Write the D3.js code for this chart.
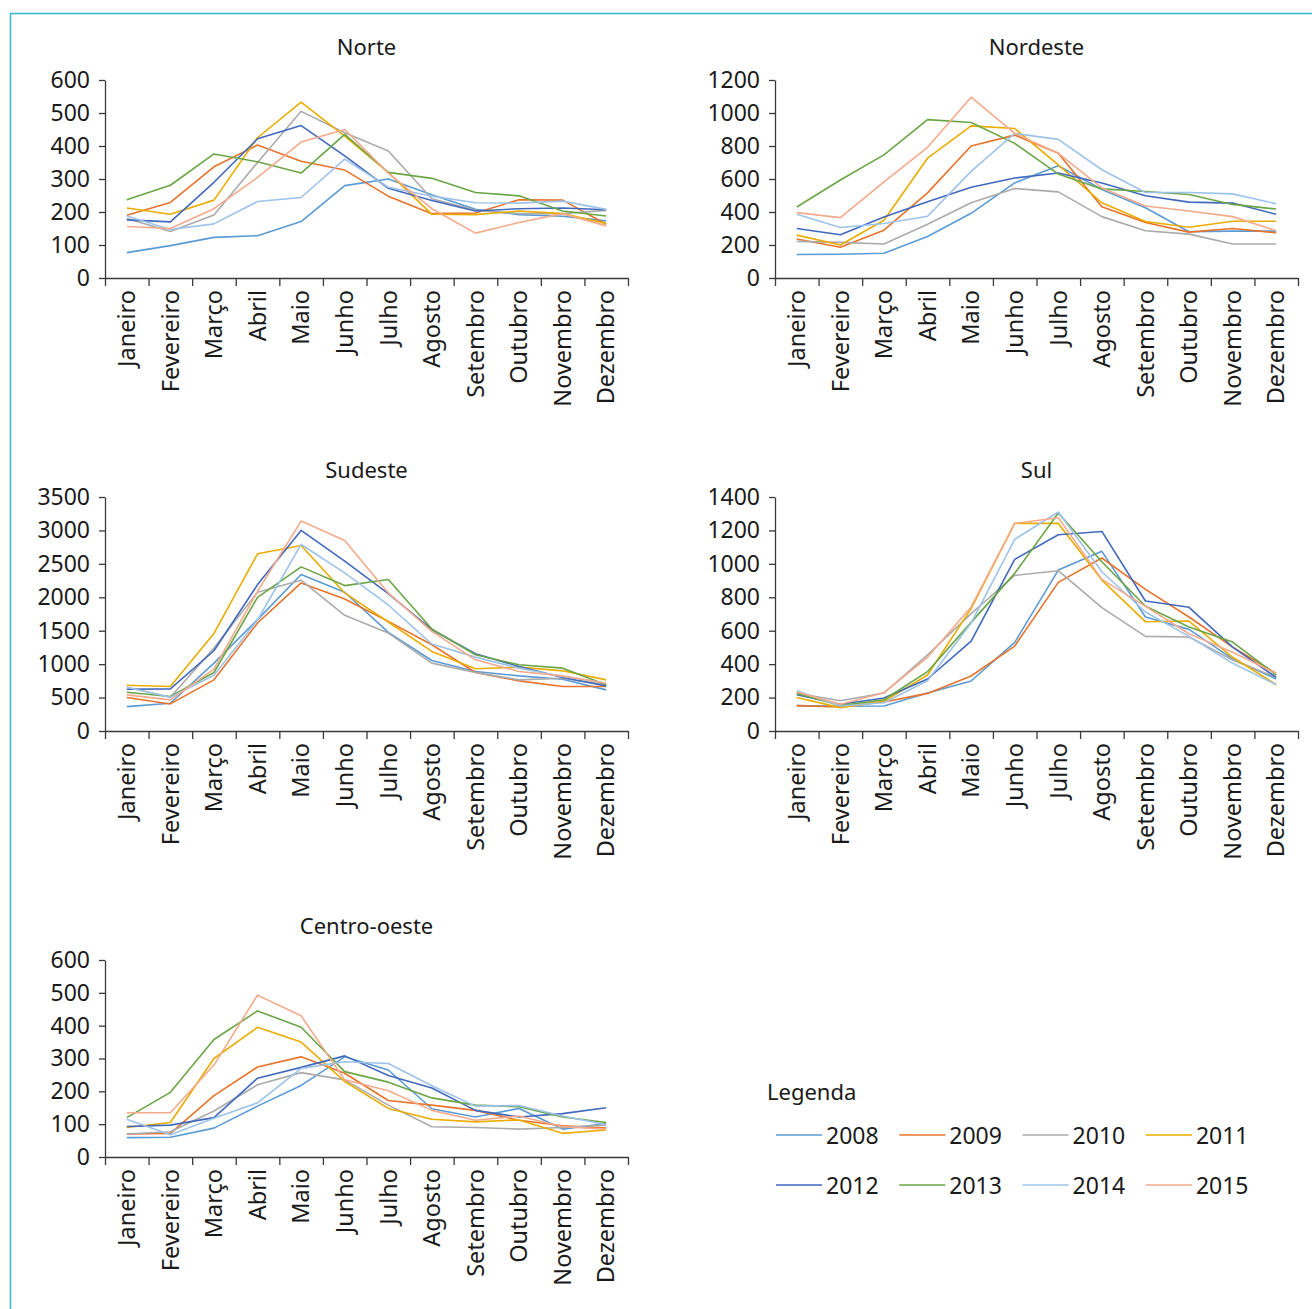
<!DOCTYPE html>
<html>
<head>
<meta charset="utf-8">
<script src="https://cdn.jsdelivr.net/npm/d3@7"></script>
<style>
  html, body { margin: 0; padding: 0; background: #fff; }
  svg { display: block; }
  text { font-family: "Noto Sans", "Open Sans", sans-serif; fill: #1a1a1a; }
</style>
</head>
<body>
<svg id="chart" width="1312" height="1309"></svg>
<script>
// ---------- DATA ----------
const months = ["Janeiro","Fevereiro","Março","Abril","Maio","Junho","Julho","Agosto","Setembro","Outubro","Novembro","Dezembro"];
const years = ["2008","2009","2010","2011","2012","2013","2014","2015"];
const yearColors = ["#5B9BD5","#E8732A","#ABABAB","#EBAC00","#4169BE","#6BA646","#9EC3EA","#F5AA8C"];

// series order follows `years`
const norte = [
  [77, 98, 123, 128, 171, 280, 300, 252, 208, 192, 187, 173],
  [190, 229, 337, 403, 354, 327, 248, 195, 197, 237, 236, 163],
  [180, 141, 191, 350, 505, 440, 385, 240, 205, 195, 195, 205],
  [212, 193, 236, 425, 533, 430, 320, 193, 192, 203, 195, 165],
  [176, 170, 290, 422, 462, 370, 272, 235, 203, 210, 212, 207],
  [237, 281, 376, 352, 318, 435, 320, 302, 259, 249, 203, 188],
  [188, 147, 164, 232, 244, 360, 275, 248, 228, 227, 233, 208],
  [156, 150, 210, 305, 412, 450, 318, 210, 136, 168, 195, 158]
];
const nordeste = [
  [142, 144, 150, 252, 392, 576, 680, 536, 426, 280, 284, 284],
  [236, 186, 290, 516, 800, 866, 756, 432, 336, 278, 300, 274],
  [222, 216, 206, 326, 456, 542, 522, 372, 286, 266, 206, 206],
  [260, 200, 350, 726, 922, 906, 686, 456, 342, 308, 344, 344],
  [300, 262, 370, 462, 550, 606, 636, 576, 498, 460, 454, 386],
  [430, 594, 746, 960, 942, 816, 630, 540, 524, 506, 446, 418],
  [386, 306, 330, 374, 646, 876, 840, 656, 518, 518, 510, 450],
  [396, 366, 582, 792, 1096, 876, 756, 546, 436, 406, 372, 286]
];
const sudeste = [
  [365, 415, 1015, 1665, 2340, 2075, 1475, 1055, 890, 825, 775, 615],
  [500, 405, 765, 1615, 2215, 1975, 1640, 1290, 875, 750, 665, 665],
  [655, 505, 1240, 2075, 2255, 1730, 1465, 1015, 875, 765, 790, 690],
  [685, 665, 1460, 2650, 2775, 2065, 1630, 1190, 930, 955, 900, 765],
  [625, 630, 1200, 2190, 3000, 2540, 2055, 1515, 1155, 965, 800, 675],
  [580, 515, 875, 2000, 2455, 2175, 2265, 1525, 1140, 990, 940, 690],
  [655, 505, 835, 1660, 2790, 2365, 1885, 1300, 1105, 940, 815, 715],
  [540, 465, 925, 2090, 3140, 2850, 2065, 1490, 1065, 890, 825, 715]
];
const sul = [
  [152, 148, 150, 227, 299, 530, 963, 1075, 682, 608, 431, 311],
  [152, 144, 174, 225, 329, 508, 889, 1035, 847, 682, 502, 345],
  [225, 181, 227, 455, 702, 931, 959, 738, 566, 562, 425, 321],
  [201, 140, 177, 335, 732, 1242, 1242, 903, 654, 658, 441, 277],
  [217, 160, 197, 311, 538, 1027, 1174, 1194, 778, 740, 502, 321],
  [225, 152, 187, 355, 650, 943, 1304, 1013, 746, 622, 532, 335],
  [241, 150, 169, 301, 646, 1147, 1310, 953, 712, 566, 405, 277],
  [233, 160, 229, 441, 742, 1242, 1276, 907, 746, 582, 471, 345]
];
const centroOeste = [
  [59, 60, 88, 155, 218, 305, 265, 147, 122, 148, 85, 102],
  [70, 72, 187, 274, 305, 255, 172, 158, 142, 112, 95, 88],
  [70, 77, 140, 220, 257, 235, 158, 92, 90, 85, 90, 97],
  [90, 105, 300, 395, 350, 230, 148, 115, 107, 113, 72, 82],
  [93, 97, 120, 240, 273, 308, 248, 210, 142, 122, 132, 150],
  [120, 197, 358, 445, 395, 260, 228, 180, 158, 153, 122, 105],
  [115, 68, 118, 165, 270, 290, 285, 217, 155, 157, 125, 98],
  [135, 135, 280, 493, 430, 235, 202, 142, 112, 125, 92, 85]
];

const nordesteTicks = [0, 200, 400, 600, 800, 1000, 1200];
const norteTicks = [0, 100, 200, 300, 400, 500, 600];
const sudesteTicks = [0, 500, 1000, 1500, 2000, 2500, 3000, 3500];
const sulTicks = [0, 200, 400, 600, 800, 1000, 1200, 1400];
const centroTicks = [0, 100, 200, 300, 400, 500, 600];

// ---------- LAYOUT ----------
const svg = d3.select("#chart");

// outer teal frame (extends beyond canvas on right/bottom)
svg.append("rect")
  .attr("x", 10.5).attr("y", 13.5)
  .attr("width", 1320).attr("height", 1320)
  .attr("fill", "none").attr("stroke", "#3DB8CB").attr("stroke-width", 1.6);

const panels = [
  { title: "Norte",        data: norte,       ticks: norteTicks,    left: 105, right: 628,  top: 80,  bottom: 278,  titleY: 46 },
  { title: "Nordeste",     data: nordeste,    ticks: nordesteTicks, left: 775, right: 1298, top: 80,  bottom: 278,  titleY: 46 },
  { title: "Sudeste",      data: sudeste,     ticks: sudesteTicks,  left: 105, right: 628,  top: 497, bottom: 731,  titleY: 469 },
  { title: "Sul",          data: sul,         ticks: sulTicks,      left: 775, right: 1298, top: 497, bottom: 731,  titleY: 469 },
  { title: "Centro-oeste", data: centroOeste, ticks: centroTicks,   left: 105, right: 628,  top: 960, bottom: 1157, titleY: 925 }
];

const axisColor = "#3a3a3a";

panels.forEach(p => {
  const g = svg.append("g");
  const x = d3.scaleBand().domain(months).range([p.left, p.right]).padding(0);
  const y = d3.scaleLinear().domain([0, d3.max(p.ticks)]).range([p.bottom, p.top]);
  const xb = d3.scaleLinear().domain([0, months.length]).range([p.left, p.right]);

  // title
  g.append("text")
    .attr("x", (p.left + p.right) / 2)
    .attr("y", p.titleY)
    .attr("text-anchor", "middle")
    .attr("dominant-baseline", "central")
    .style("font-size", "22px")
    .text(p.title);

  // y axis
  const ya = g.append("g")
    .attr("transform", `translate(${p.left},0)`)
    .call(d3.axisLeft(y).tickValues(p.ticks).tickSize(6).tickSizeOuter(0).tickPadding(9).tickFormat(d3.format("d")));
  ya.select(".domain").attr("stroke", axisColor).attr("stroke-width", 1.3);
  ya.selectAll(".tick line").attr("stroke", axisColor).attr("stroke-width", 1.3);
  ya.selectAll(".tick text").style("font-size", "23px").attr("fill", "#1a1a1a").style("font-family", '"Noto Sans", sans-serif');

  // x axis ticks at band boundaries
  const xa = g.append("g")
    .attr("transform", `translate(0,${p.bottom})`)
    .call(d3.axisBottom(xb).tickValues(d3.range(months.length + 1)).tickSize(8).tickSizeOuter(0).tickFormat(""));
  xa.select(".domain").attr("stroke", axisColor).attr("stroke-width", 1.3);
  xa.selectAll(".tick line").attr("stroke", axisColor).attr("stroke-width", 1.3);

  // x labels (rotated)
  const xl = g.append("g")
    .attr("transform", `translate(0,${p.bottom})`)
    .call(d3.axisBottom(x).tickSize(0).tickPadding(0));
  xl.select(".domain").remove();
  xl.selectAll(".tick text")
    .attr("transform", "rotate(-90)")
    .attr("text-anchor", "end")
    .attr("x", -12)
    .attr("y", 0)
    .attr("dy", "0.35em")
    .style("font-size", "23.5px")
    .attr("fill", "#1a1a1a")
    .style("font-family", '"Noto Sans", sans-serif');

  // lines
  const line = d3.line()
    .x((d, i) => x(months[i]) + x.bandwidth() / 2)
    .y(d => y(d));
  p.data.forEach((s, si) => {
    g.append("path")
      .datum(s)
      .attr("fill", "none")
      .attr("stroke", yearColors[si])
      .attr("stroke-width", 1.6)
      .attr("stroke-linejoin", "round")
      .attr("d", line);
  });
});

// ---------- LEGEND ----------
const lg = svg.append("g");
lg.append("text")
  .attr("x", 767).attr("y", 1091)
  .attr("dominant-baseline", "central")
  .style("font-size", "22px")
  .text("Legenda");

years.forEach((yr, i) => {
  const col = i % 4, row = Math.floor(i / 4);
  const x0 = 776 + col * 123.3;
  const y0 = 1135 + row * 50;
  lg.append("line")
    .attr("x1", x0).attr("x2", x0 + 46)
    .attr("y1", y0).attr("y2", y0)
    .attr("stroke", yearColors[i]).attr("stroke-width", 1.6);
  lg.append("text")
    .attr("x", x0 + 50).attr("y", y0)
    .attr("dominant-baseline", "central")
    .style("font-size", "23px")
    .text(yr);
});
</script>
</body>
</html>
